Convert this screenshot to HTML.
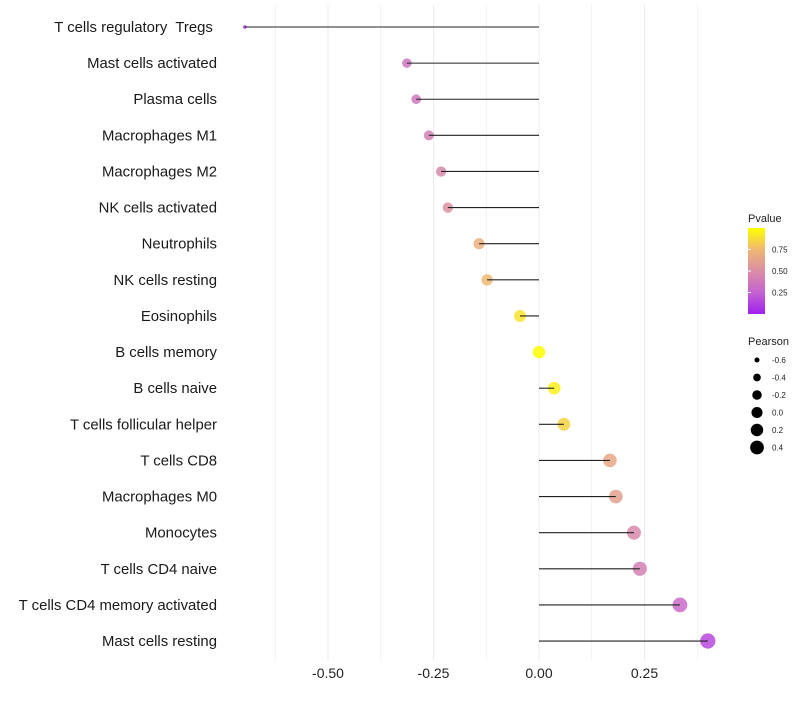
<!DOCTYPE html>
<html><head><meta charset="utf-8"><style>
body{margin:0;background:#fff}
svg{font-family:"Liberation Sans",sans-serif}
text{white-space:pre}
</style></head><body>
<svg id="chart" width="800" height="700">
<defs><linearGradient id="pg" x1="0" y1="1" x2="0" y2="0">
<stop offset="0" stop-color="#a020f0"/><stop offset="0.25" stop-color="#c462d0"/><stop offset="0.5" stop-color="#db8ea6"/><stop offset="0.75" stop-color="#efb872"/><stop offset="1" stop-color="#ffff00"/></linearGradient></defs>
<g id="grid"></g><g id="points"></g><g id="marks"></g><g id="labels"></g><g id="legend"></g>
</svg>
<script>
const categories=["T cells regulatory  Tregs ","Mast cells activated","Plasma cells","Macrophages M1","Macrophages M2","NK cells activated","Neutrophils","NK cells resting","Eosinophils","B cells memory","B cells naive","T cells follicular helper","T cells CD8","Macrophages M0","Monocytes","T cells CD4 naive","T cells CD4 memory activated","Mast cells resting"];
const pearson=[-0.697,-0.313,-0.291,-0.261,-0.232,-0.216,-0.142,-0.123,-0.045,0.0,0.036,0.059,0.168,0.182,0.225,0.239,0.334,0.400];
const pvalues=[0.02,0.35,0.37,0.42,0.47,0.52,0.7,0.75,0.9,1.0,0.95,0.85,0.65,0.6,0.47,0.42,0.3,0.15];
const xTicks=[-0.5,-0.25,0,0.25];
const xTickLabels=["-0.50","-0.25","0.00","0.25"];
const sizeLegend=[-0.6,-0.4,-0.2,0.0,0.2,0.4];
const sizeLegendLabels=["-0.6","-0.4","-0.2","0.0","0.2","0.4"];
const pLegend=[0.25,0.5,0.75];
const pLegendLabels=["0.25","0.50","0.75"];
const NS="http://www.w3.org/2000/svg";
const x=v=>539+v*422;
const y=i=>27+i*36.12;
const rad=v=>Math.sqrt(Math.max(2,3+(v+0.7)*50));
const stops=[[0,[160,32,240]],[0.25,[196,98,208]],[0.5,[219,142,166]],[0.75,[239,184,114]],[1,[255,255,0]]];
function col(p){for(let k=1;k<stops.length;k++){if(p<=stops[k][0]){const a=stops[k-1],b=stops[k],t=(p-a[0])/(b[0]-a[0]);return 'rgb('+a[1].map((c,j)=>Math.round(c+(b[1][j]-c)*t)).join(',')+')';}}return 'rgb(255,255,0)';}
function mk(tag,attrs,parent,text){const e=document.createElementNS(NS,tag);for(const k in attrs)e.setAttribute(k,attrs[k]);if(text!==undefined)e.textContent=text;document.getElementById(parent).appendChild(e);return e;}
for(let v=-0.625;v<=0.4;v+=0.125){
 const major=Math.abs((v*4)-Math.round(v*4))<1e-6;
 const g=mk('line',{x1:x(v),x2:x(v),y1:5,y2:660,stroke:'#ebebeb','stroke-width':major?1:0.6},'grid');
 
 
}
xTicks.forEach((v,i)=>{
 const t=mk('text',{x:x(v),y:678,'text-anchor':'middle','font-size':14,fill:'#222'},'labels',xTickLabels[i]);
 
 
});
categories.forEach((c,i)=>{
 const t=mk('text',{x:217,y:y(i)+5,'text-anchor':'end','font-size':14.9,fill:'#1a1a1a'},'labels',c);
 
 
 const d=mk('circle',{cx:x(pearson[i]),cy:y(i),r:rad(pearson[i]),fill:col(pvalues[i]),'fill-opacity':0.85},'points');
 
 
 const l=mk('line',{x1:x(0),x2:x(pearson[i]),y1:y(i),y2:y(i),stroke:'#222','stroke-width':1.1},'marks');
 
 
});
let t=mk('text',{x:748,y:222,'font-size':11,fill:'#222'},'legend','Pvalue');


let r=mk('rect',{x:748,y:228,width:17,height:86,fill:'url(#pg)'},'legend');


pLegend.forEach((p,i)=>{
 const yy=314-p*86;
 const tk=mk('line',{x1:748,x2:751,y1:yy,y2:yy,stroke:'#fff'},'legend');
 
 
 const lt=mk('text',{x:772,y:yy+3,'font-size':8,fill:'#222'},'legend',pLegendLabels[i]);
 
 
});
t=mk('text',{x:748,y:345,'font-size':11,fill:'#222'},'legend','Pearson');


sizeLegend.forEach((v,i)=>{
 const yy=360+i*17.5;
 const c=mk('circle',{cx:757,cy:yy,r:rad(v)*0.9,fill:'#000'},'legend');
 
 
 const lt=mk('text',{x:772,y:yy+3,'font-size':8,fill:'#222'},'legend',sizeLegendLabels[i]);
 
 
});
</script>
</body></html>
